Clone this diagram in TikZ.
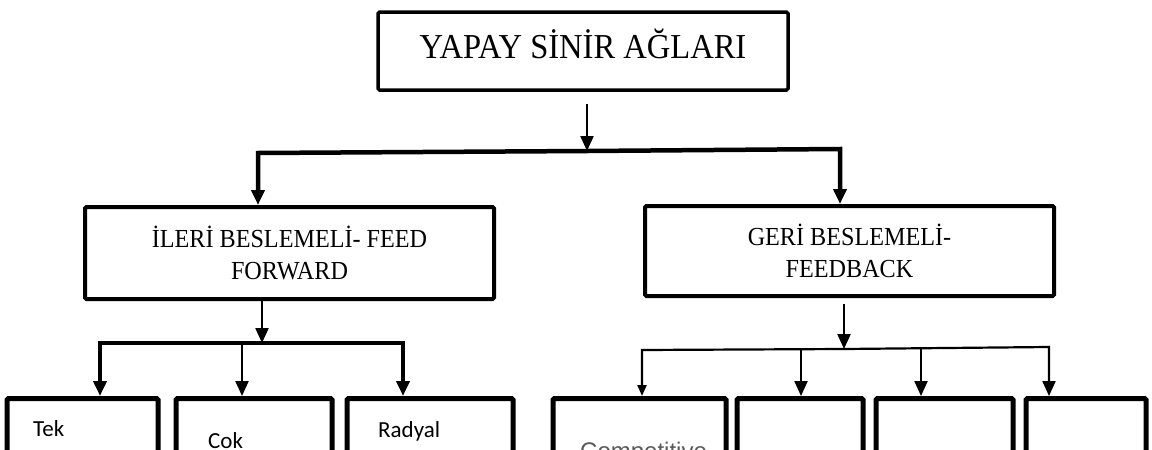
\documentclass[tikz,border=0pt]{standalone}
\usepackage{fontspec}
\usepackage{tikz}
\usetikzlibrary{arrows.meta,calc,positioning}
\newfontfamily\serifbox{Liberation Serif}[FakeStretch=0.93]
\newfontfamily\sansbox{Carlito}
\newfontfamily\arialbox{Liberation Sans}
\definecolor{compgray}{HTML}{595959}
\tikzset{%
  >={Triangle[width=13pt,length=15pt]},
  link/.style      = { draw, line width=2.2pt },
  thicklink/.style = { draw, line width=4.5pt }
}

\begin{document}
\begin{tikzpicture}[x=1pt,y=-1pt,
	b/.style={draw,line width=4pt,rounded corners=1.5pt,inner sep=0pt,align=center,%
		font=\serifbox\fontsize{26}{32}\selectfont},%
	leaf/.style={draw,line width=5pt,rounded corners=1.5pt,minimum height=123pt},%
	t/.style={anchor=base west,inner sep=0pt,font=\sansbox\fontsize{23}{27}\selectfont}]
	% fix the page and cut the boxes at the bottom
	\useasboundingbox (0,0) rectangle (1152,450);
	\clip (0,0) rectangle (1152,450);

	\node[b,line width=3.5pt,minimum width=410pt,minimum height=78pt,text height=24pt,text depth=10pt,%
		font=\serifbox\fontsize{35}{40}\selectfont] (ysa) at (583,51) {YAPAY SİNİR AĞLARI};
	\node[b,minimum width=409pt,minimum height=92pt] (ileri) at (289.5,253) {İLERİ BESLEMELİ- FEED\\FORWARD};
	\node[b,minimum width=409pt,minimum height=90pt] (geri) at (849.5,251) {GERİ BESLEMELİ-\\FEEDBACK};

	\node[leaf,minimum width=151pt] (tek) at (82.5,460) {};
	\node[leaf,minimum width=156pt] (cok) at (254,460) {};
	\node[leaf,minimum width=166pt] (radyal) at (430,460) {};
	\node[leaf,minimum width=173pt] (comp) at (639.5,460) {};
	\node[leaf,minimum width=126pt] (fbb) at (800,460) {};
	\node[leaf,minimum width=137pt] (fbc) at (944.5,460) {};
	\node[leaf,minimum width=120pt] (fbd) at (1086,460) {};

	\node[t] (tektxt) at (33,436) {Tek};
	\node[t] (coktxt) at (208,448) {Cok};
	\node[t] (radtxt) at (378,437) {Radyal};
	\node[t,font=\arialbox\fontsize{24}{28}\selectfont,text=compgray] (comptxt) at (580,459) {Competitive};

	% first split
	\coordinate (j1) at (587,151);
	\coordinate (j1l) at (258,153);
	\coordinate (j1r) at (840,149);
	\draw[link,->,shorten <=12pt] (j1 |- ysa.south) -- (j1);
	\draw[thicklink,->] (j1) -- (j1l) -- (j1l |- ileri.north);
	\draw[thicklink,->] (j1) -- (j1r) -- (j1r |- geri.north);

	% feed forward
	\coordinate (j2) at (262,343);
	\coordinate (j2l) at (100,343);
	\coordinate (j2m) at (242,343);
	\coordinate (j2r) at (403,343);
	\draw[link,->] (j2 |- ileri.south) -- (j2);
	\draw[thicklink,->] (j2) -- (j2l) -- (j2l |- tek.north);
	\draw[thicklink,->] (j2) -- (j2r) -- (j2r |- radyal.north);
	\draw[link,->] (j2m) -- (j2m |- cok.north);

	% feedback
	\coordinate (j3) at (844,349);
	\coordinate (j3l) at (642,350);
	\coordinate (j3a) at (801,349);
	\coordinate (j3b) at (921,348);
	\coordinate (j3r) at (1049,347);
	\draw[link,->,shorten <=6pt] (j3 |- geri.south) -- (j3);
	\draw[link,-{Triangle[width=9pt,length=11pt]}] (j3) -- (j3l) -- (j3l |- comp.north);
	\draw[link,->] (j3) -- (j3r) -- (j3r |- fbd.north);
	\draw[link,->] (j3a) -- (j3a |- fbb.north);
	\draw[link,->] (j3b) -- (j3b |- fbc.north);
\end{tikzpicture}
\end{document}
